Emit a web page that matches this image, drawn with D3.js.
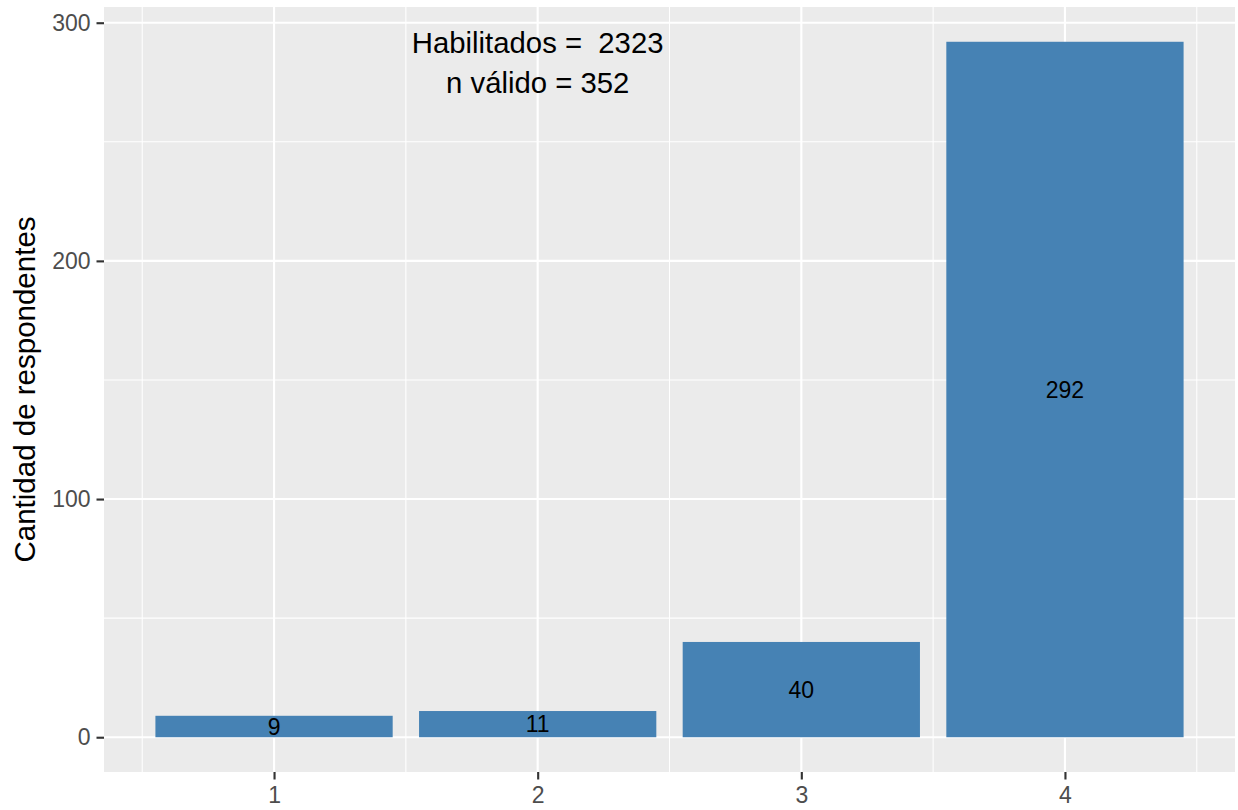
<!DOCTYPE html>
<html>
<head>
<meta charset="utf-8">
<script src="https://cdn.jsdelivr.net/npm/d3@7"></script>
<style>
  html, body { margin: 0; padding: 0; background: #ffffff; }
  svg { display: block; font-family: "Liberation Sans", Arial, Helvetica, sans-serif; }
  .pre { white-space: pre; }
</style>
</head>
<body>
<svg id="chart" width="1238" height="810"></svg>
<script>
// ---- data ----
const categories = [1, 2, 3, 4];
const counts = [9, 11, 40, 292];
const yTicks = [0, 100, 200, 300];
const yMinor = [50, 150, 250];
const xMinor = [0.5, 1.5, 2.5, 3.5, 4.5];
const annotationLines = ["Habilitados =  2323", "n válido = 352"];
const yTitle = "Cantidad de respondentes";

// ---- layout ----
const panel = { left: 104, right: 1235, top: 7, bottom: 772 };
const barWidth = 0.9;

const svg = d3.select("#chart");

const xMinData = d3.min(categories) - barWidth / 2;
const xMaxData = d3.max(categories) + barWidth / 2;
const xPad = (xMaxData - xMinData) * 0.05;
const x = d3.scaleLinear()
  .domain([xMinData - xPad, xMaxData + xPad])
  .range([panel.left, panel.right]);

const yMaxData = d3.max(counts);
const yPad = yMaxData * 0.05;
const y = d3.scaleLinear()
  .domain([0 - yPad, yMaxData + yPad])
  .range([panel.bottom, panel.top]);

svg.append("rect")
  .attr("x", panel.left).attr("y", panel.top)
  .attr("width", panel.right - panel.left)
  .attr("height", panel.bottom - panel.top)
  .attr("fill", "#EBEBEB");

const grid = svg.append("g");
grid.selectAll(".ymin").data(yMinor).enter().append("line")
  .attr("x1", panel.left).attr("x2", panel.right)
  .attr("y1", d => y(d)).attr("y2", d => y(d))
  .attr("stroke", "#ffffff").attr("stroke-width", 1.07);
grid.selectAll(".xmin").data(xMinor).enter().append("line")
  .attr("y1", panel.top).attr("y2", panel.bottom)
  .attr("x1", d => x(d)).attr("x2", d => x(d))
  .attr("stroke", "#ffffff").attr("stroke-width", 1.07);
grid.selectAll(".ymaj").data(yTicks).enter().append("line")
  .attr("x1", panel.left).attr("x2", panel.right)
  .attr("y1", d => y(d)).attr("y2", d => y(d))
  .attr("stroke", "#ffffff").attr("stroke-width", 2.13);
grid.selectAll(".xmaj").data(categories).enter().append("line")
  .attr("y1", panel.top).attr("y2", panel.bottom)
  .attr("x1", d => x(d)).attr("x2", d => x(d))
  .attr("stroke", "#ffffff").attr("stroke-width", 2.13);

const data = categories.map((c, i) => ({ c, v: counts[i] }));
svg.append("g").selectAll("rect").data(data).enter().append("rect")
  .attr("x", d => x(d.c - barWidth / 2))
  .attr("width", d => x(d.c + barWidth / 2) - x(d.c - barWidth / 2))
  .attr("y", d => y(d.v))
  .attr("height", d => y(0) - y(d.v))
  .attr("fill", "#4682B4");

svg.append("g").selectAll("text").data(data).enter().append("text")
  .attr("x", d => x(d.c))
  .attr("y", d => y(d.v / 2))
  .attr("dy", "0.36em")
  .attr("text-anchor", "middle")
  .attr("font-size", 23)
  .attr("fill", "#000000")
  .text(d => d.v);

const ann = svg.append("text")
  .attr("class", "pre")
  .attr("xml:space", "preserve")
  .attr("x", x(2))
  .attr("y", y(300) + 30.5)
  .attr("text-anchor", "middle")
  .attr("font-size", 29.3)
  .attr("fill", "#000000");
annotationLines.forEach((t, i) => {
  ann.append("tspan").attr("class", "pre").attr("x", x(2)).attr("dy", i === 0 ? 0 : 39.5).text(t);
});

const yAxis = d3.axisLeft(y).tickValues(yTicks).tickSize(7.5).tickPadding(6);
const gy = svg.append("g").attr("transform", `translate(${panel.left},0)`).call(yAxis);
gy.select(".domain").remove();
gy.selectAll(".tick line").attr("stroke", "#333333").attr("stroke-width", 2.13);
gy.selectAll(".tick text").attr("fill", "#4D4D4D").attr("font-size", 23)
  .attr("font-family", "Liberation Sans, Arial, sans-serif");

const xAxis = d3.axisBottom(x).tickValues(categories).tickFormat(d3.format("d")).tickSize(7.5).tickPadding(7);
const gx = svg.append("g").attr("transform", `translate(0,${panel.bottom})`).call(xAxis);
gx.select(".domain").remove();
gx.selectAll(".tick line").attr("stroke", "#333333").attr("stroke-width", 2.13);
gx.selectAll(".tick text").attr("fill", "#4D4D4D").attr("font-size", 23)
  .attr("font-family", "Liberation Sans, Arial, sans-serif");

svg.append("text")
  .attr("transform", `translate(35,${(panel.top + panel.bottom) / 2}) rotate(-90)`)
  .attr("text-anchor", "middle")
  .attr("font-size", 29.5)
  .attr("fill", "#000000")
  .text(yTitle);
</script>
</body>
</html>
